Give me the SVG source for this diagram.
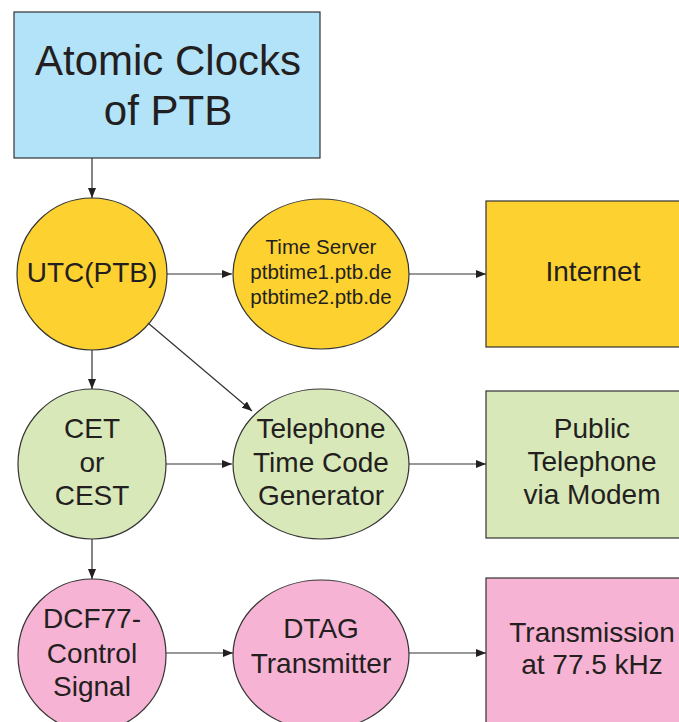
<svg xmlns="http://www.w3.org/2000/svg" width="679" height="722" viewBox="0 0 679 722">
<style>
.shape{stroke:#333;stroke-width:1.2}
.blue{fill:#b3e3f8}
.yel{fill:#fdd12f}
.grn{fill:#d8e8b9}
.pnk{fill:#f6b3d3}
text{font-family:"Liberation Sans",Arial,sans-serif;fill:#231f20;text-anchor:middle}
.t28{font-size:28px}
.t21{font-size:20.5px}
.t42{font-size:42px}
.conn line{stroke:#333;stroke-width:1.2;marker-end:url(#ah)}
</style>
<defs>
<marker id="ah" viewBox="0 0 10 8" refX="10" refY="4" markerWidth="10" markerHeight="8" markerUnits="userSpaceOnUse" orient="auto">
<path d="M0,0 L10,4 L0,8 Z" fill="#231f20"/>
</marker>
</defs>
<rect width="679" height="722" fill="#fff"/>
<g id="atomic">
<rect class="shape blue" x="14" y="12" width="306" height="146"/>
<text class="t42" x="168" y="75">Atomic Clocks</text>
<text class="t42" x="168" y="125">of PTB</text>
</g>
<g id="utc">
<ellipse class="shape yel" cx="92" cy="274" rx="75" ry="76"/>
<text class="t28" x="92" y="282">UTC(PTB)</text>
</g>
<g id="timeserver">
<ellipse class="shape yel" cx="321" cy="274" rx="88" ry="75"/>
<text class="t21" x="321" y="254">Time Server</text>
<text class="t21" x="321" y="279">ptbtime1.ptb.de</text>
<text class="t21" x="321" y="304">ptbtime2.ptb.de</text>
</g>
<g id="internet">
<rect class="shape yel" x="486" y="201" width="210" height="146"/>
<text class="t28" x="593" y="281">Internet</text>
</g>
<g id="cet">
<ellipse class="shape grn" cx="92" cy="464" rx="74" ry="75"/>
<text class="t28" x="92" y="438">CET</text>
<text class="t28" x="92" y="472">or</text>
<text class="t28" x="92" y="505">CEST</text>
</g>
<g id="tcg">
<ellipse class="shape grn" cx="321" cy="464" rx="88" ry="75"/>
<text class="t28" x="321" y="438">Telephone</text>
<text class="t28" x="321" y="472">Time Code</text>
<text class="t28" x="321" y="505">Generator</text>
</g>
<g id="public">
<rect class="shape grn" x="486" y="391" width="210" height="147"/>
<text class="t28" x="592" y="438">Public</text>
<text class="t28" x="592" y="471">Telephone</text>
<text class="t28" x="592" y="504">via Modem</text>
</g>
<g id="dcf77">
<ellipse class="shape pnk" cx="92" cy="655" rx="74" ry="76"/>
<text class="t28" x="92" y="628">DCF77-</text>
<text class="t28" x="92" y="663">Control</text>
<text class="t28" x="92" y="696">Signal</text>
</g>
<g id="dtag">
<ellipse class="shape pnk" cx="321" cy="655" rx="88" ry="75"/>
<text class="t28" x="321" y="638">DTAG</text>
<text class="t28" x="321" y="673">Transmitter</text>
</g>
<g id="transmission">
<rect class="shape pnk" x="486" y="578" width="210" height="160"/>
<text class="t28" x="592" y="642">Transmission</text>
<text class="t28" x="592" y="674">at 77.5 kHz</text>
</g>
<g class="conn" id="connectors">
<line x1="92" y1="158" x2="92" y2="198"/>
<line x1="167" y1="274" x2="232" y2="274"/>
<line x1="409" y1="274" x2="486" y2="274"/>
<line x1="148" y1="323" x2="252" y2="411"/>
<line x1="92" y1="350" x2="92" y2="389"/>
<line x1="166" y1="464" x2="232" y2="464"/>
<line x1="409" y1="464" x2="486" y2="464"/>
<line x1="92" y1="539" x2="92" y2="579"/>
<line x1="166" y1="653" x2="233" y2="653"/>
<line x1="409" y1="653" x2="486" y2="653"/>
</g>
</svg>
